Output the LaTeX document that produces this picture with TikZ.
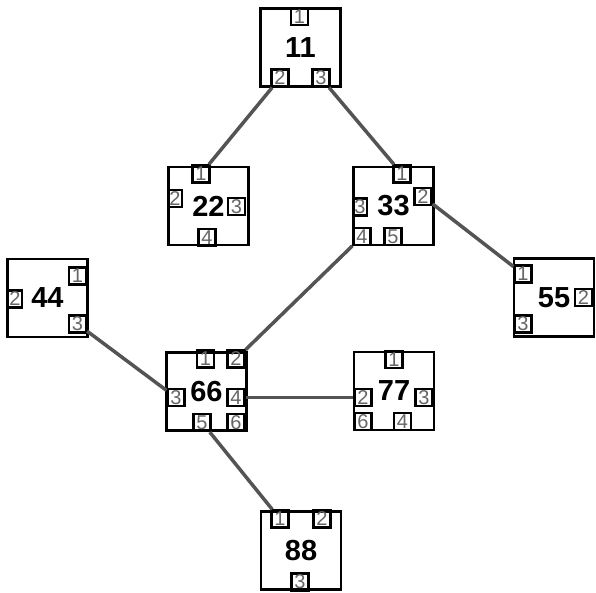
\documentclass[tikz,border=0pt]{standalone}
\usepackage{fontspec}
\setmainfont{Liberation Sans}

\begin{document}
\begin{tikzpicture}[x=1pt, y=-1pt]

  \tikzstyle{box} = [draw, line width=2.8pt, minimum width=80pt, minimum height=78pt, inner sep=0pt, font=\fontsize{29}{29}\selectfont\bfseries]
  \tikzstyle{port} = [draw, line width=2.2pt, minimum size=17pt, inner sep=0pt, text=black!60, font=\fontsize{20}{20}\selectfont]
  \tikzstyle{narrow} = [port, minimum width=14pt]
  \tikzstyle{link} = [draw=black!67, line width=3.5pt]

  \useasboundingbox (0,0) rectangle (596,593);

  % boxes
  \node[box] (n11) at (300.5,47.5) {11};
  \node[box] (n22) at (208.5,206) {22};
  \node[box] (n33) at (393.5,206) {33};
  \node[box] (n44) at (47.5,298) {44};
  \node[box] (n55) at (554,297.5) {55};
  \node[box] (n66) at (206.5,391.5) {66};
  \node[box] (n77) at (394,391) {77};
  \node[box] (n88) at (301,550.5) {88};

  % ports
  \node[port] (n11p1) at (299.5,16.5) {1};
  \node[port] (n11p2) at (280,78) {2};
  \node[port] (n11p3) at (321,78) {3};

  \node[port] (n22p1) at (201,174) {1};
  \node[narrow] (n22p2) at (175,198.5) {2};
  \node[port] (n22p3) at (236.5,206.5) {3};
  \node[port] (n22p4) at (207,237.5) {4};

  \node[port] (n33p1) at (402,174) {1};
  \node[port] (n33p2) at (423,196.5) {2};
  \node[narrow] (n33p3) at (360,207) {3};
  \node[port] (n33p4) at (362,236.5) {4};
  \node[port] (n33p5) at (393,236.5) {5};

  \node[port] (n44p1) at (77.5,276) {1};
  \node[narrow] (n44p2) at (15,299) {2};
  \node[port] (n44p3) at (77.5,324) {3};

  \node[port] (n55p1) at (523,274) {1};
  \node[port] (n55p2) at (583.5,297.5) {2};
  \node[port] (n55p3) at (523,324) {3};

  \node[port] (n66p1) at (205.5,359) {1};
  \node[port] (n66p2) at (236,359) {2};
  \node[port] (n66p3) at (176,397.5) {3};
  \node[port] (n66p4) at (236,397.5) {4};
  \node[port] (n66p5) at (202,422.5) {5};
  \node[port] (n66p6) at (236,422.5) {6};

  \node[port] (n77p1) at (394,359.5) {1};
  \node[port] (n77p2) at (363,397.5) {2};
  \node[port] (n77p3) at (424,397.5) {3};
  \node[port] (n77p4) at (402.5,421.5) {4};
  \node[port] (n77p6) at (363,421.5) {6};

  \node[port] (n88p1) at (280,519) {1};
  \node[port] (n88p2) at (322,519) {2};
  \node[port] (n88p3) at (300,582) {3};

  % links
  \path (n11p2) edge[link] (n22p1)
        (n11p3) edge[link] (n33p1)
        (n33p2) edge[link] (n55p1)
        (n33p4) edge[link] (n66p2)
        (n44p3) edge[link] (n66p3)
        (n66p4) edge[link] (n77p2)
        (n66p5) edge[link] (n88p1);
\end{tikzpicture}
\end{document}
